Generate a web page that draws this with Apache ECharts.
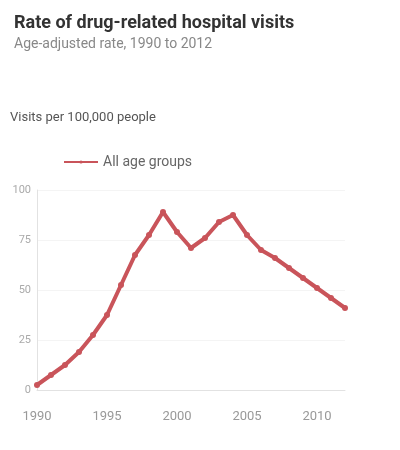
<!DOCTYPE html>
<html>
<head>
<meta charset="utf-8">
<script src="https://cdn.jsdelivr.net/npm/echarts@6/dist/echarts.min.js"></script>
<style>html,body{margin:0;padding:0;background:#fff}#c{width:400px;height:450px}</style>
</head>
<body>
<div id="c"></div>
<script>
const years = ['1990','1991','1992','1993','1994','1995','1996','1997','1998','1999','2000','2001','2002','2003','2004','2005','2006','2007','2008','2009','2010','2011','2012'];
const rateValues = [2.5,7.5,12.5,19,27.5,37.5,52.5,67.5,77.5,89,79,71,76,84,87.5,77.5,70,66,61,56,51,46,41];
const yTicks = [0,25,50,75,100];
const seriesName = 'All age groups';

const chart = echarts.init(document.getElementById('c'));
chart.setOption({
  animation: false,
  textStyle: {fontFamily: 'Roboto, sans-serif'},
  title: {
    text: 'Rate of drug-related hospital visits',
    subtext: 'Age-adjusted rate, 1990 to 2012',
    left: 9, top: 9,
    textStyle: {fontSize: 18, fontWeight: 'bold', color: '#333'},
    subtextStyle: {fontSize: 14, color: '#888'},
    itemGap: 5
  },
  legend: {
    data: [seriesName],
    left: 58, top: 150,
    itemWidth: 34, itemHeight: 4,
    textStyle: {fontSize: 14, color: '#666'}
  },
  grid: {left: 37, right: 55, top: 190, bottom: 60},
  xAxis: {
    type: 'category',
    data: years,
    boundaryGap: false,
    axisLine: {lineStyle: {color: '#e2e2e2'}},
    axisTick: {show: false},
    axisLabel: {
      color: '#999', fontSize: 13, margin: 20,
      interval: (i) => i % 5 === 0
    }
  },
  yAxis: {
    type: 'value',
    min: yTicks[0], max: yTicks[yTicks.length - 1], interval: 25,
    name: 'Visits per 100,000 people',
    nameLocation: 'end',
    nameGap: 66,
    nameTextStyle: {align: 'left', padding: [0, 0, 0, -27], fontSize: 13, color: '#555'},
    axisLine: {show: true, lineStyle: {color: '#e2e2e2'}},
    axisTick: {show: false},
    axisLabel: {color: '#aaa', fontSize: 11, margin: 6},
    splitLine: {lineStyle: {color: '#f4f4f4'}}
  },
  series: [{
    name: seriesName,
    type: 'line',
    data: rateValues,
    symbol: 'circle',
    symbolSize: 6,
    lineStyle: {color: '#c9545a', width: 4},
    itemStyle: {color: '#c9545a'}
  }]
});
</script>
</body>
</html>
